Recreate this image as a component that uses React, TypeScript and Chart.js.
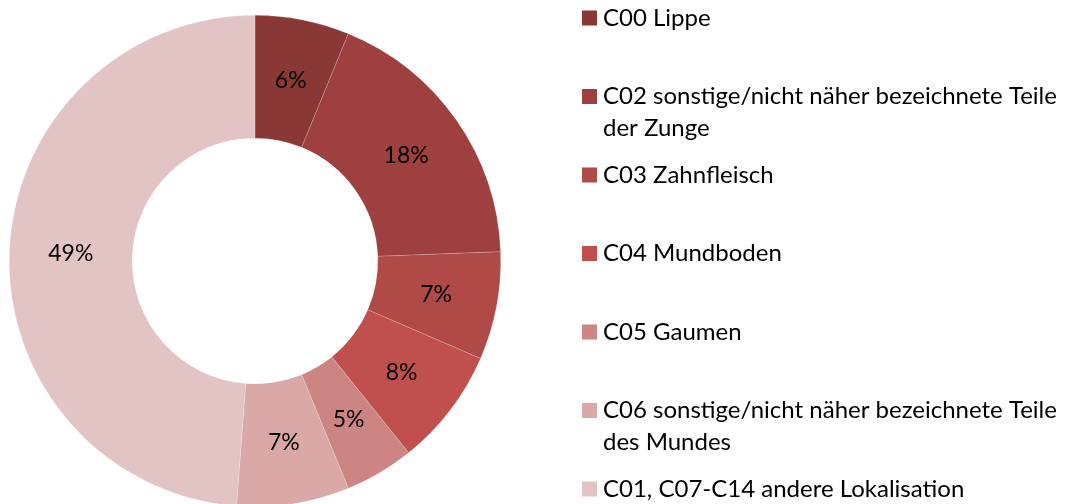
import React, { useEffect, useRef } from "react";
import { Chart, registerables } from "chart.js";

Chart.register(...registerables);

const categories = [
  "C00 Lippe",
  "C02 sonstige/nicht näher bezeichnete Teile der Zunge",
  "C03 Zahnfleisch",
  "C04 Mundboden",
  "C05 Gaumen",
  "C06 sonstige/nicht näher bezeichnete Teile des Mundes",
  "C01, C07-C14 andere Lokalisation",
];
const shares = [6.2, 18.2, 7.1, 7.75, 4.55, 7.4, 48.8];
const colors = ["#8A3836", "#9E403F", "#AF4A47", "#C0504D", "#CD8583", "#D9A8A7", "#E3C4C4"];

const FONT = "Lato, 'Open Sans', 'Noto Sans', sans-serif";

const labelsPlugin = {
  id: "sliceLabels",
  afterDatasetsDraw(chart: any) {
    const ctx = chart.ctx;
    const meta = chart.getDatasetMeta(0);
    const data = chart.data.datasets[0].data as number[];
    const total = data.reduce((a, b) => a + b, 0);
    ctx.save();
    ctx.fillStyle = "#000";
    ctx.font = `23px ${FONT}`;
    ctx.textAlign = "center";
    ctx.textBaseline = "middle";
    meta.data.forEach((arc: any, i: number) => {
      const p = arc.tooltipPosition();
      ctx.fillText(`${Math.round((data[i] / total) * 100)}%`, p.x, p.y);
    });
    ctx.restore();
  },
};

const legendPlugin = {
  id: "sideLegend",
  afterDraw(chart: any) {
    const ctx = chart.ctx;
    const labels = chart.data.labels as string[];
    const bg = chart.data.datasets[0].backgroundColor as string[];
    const textX = 603;
    const boxX = 582;
    const maxW = 1082 - textX - 4;
    ctx.save();
    ctx.font = `100px ${FONT}`;
    const ref = ctx.measureText("C02 sonstige/nicht näher bezeichnete Teile").width;
    const size = Math.min(24, (100 * 467) / ref);
    ctx.font = `${size}px ${FONT}`;
    ctx.textBaseline = "middle";
    ctx.textAlign = "left";
    const firstY = 18;
    const step = 78.5;
    const lineH = 32;
    labels.forEach((lab, i) => {
      const words = lab.split(" ");
      const lines: string[] = [];
      let cur = "";
      for (const w of words) {
        const t = cur ? cur + " " + w : w;
        if (ctx.measureText(t).width > maxW && cur) {
          lines.push(cur);
          cur = w;
        } else cur = t;
      }
      if (cur) lines.push(cur);
      const y = firstY + i * step;
      ctx.fillStyle = bg[i];
      ctx.fillRect(boxX, y - 7.5, 15, 15);
      ctx.fillStyle = "#000";
      lines.forEach((ln, j) => ctx.fillText(ln, textX, y + j * lineH));
    });
    ctx.restore();
  },
};

export default function App() {
  const ref = useRef<HTMLCanvasElement>(null);
  useEffect(() => {
    document.body.style.margin = "0";
    document.body.style.overflow = "hidden";
    const chart = new Chart(ref.current!, {
      type: "doughnut",
      data: {
        labels: categories,
        datasets: [
          {
            data: shares,
            backgroundColor: colors,
            borderColor: "rgba(255,255,255,0.35)",
            borderWidth: 0.5,
            hoverOffset: 0,
          },
        ],
      },
      options: {
        animation: false,
        responsive: false,
        cutout: "50%",
        layout: { padding: { left: 9, top: 15, right: 581, bottom: 15 } },
        plugins: {
          legend: { display: false },
          tooltip: { enabled: false },
        },
      },
      plugins: [labelsPlugin, legendPlugin],
    });
    return () => chart.destroy();
  }, []);
  return (
    <div style={{ position: "fixed", left: 0, top: 0, width: 1082, height: 504, overflow: "hidden", background: "#fff" }}>
      <canvas ref={ref} width={1082} height={522} style={{ display: "block" }} />
    </div>
  );
}
